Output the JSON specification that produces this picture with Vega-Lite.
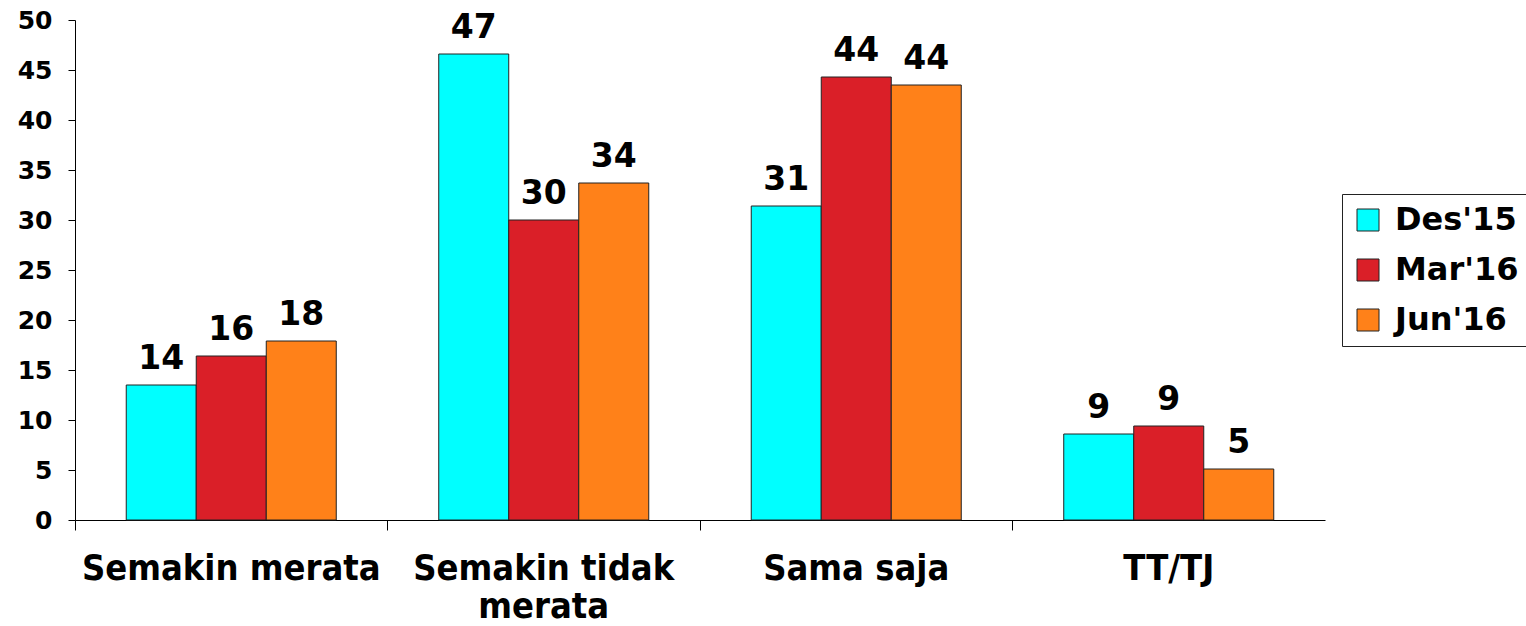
{
  "$schema": "https://vega.github.io/schema/vega-lite/v6.json",
  "width": 1250,
  "height": 500,
  "autosize": {"type": "none"},
  "padding": {"left": 75, "top": 20, "right": 201, "bottom": 106},
  "background": "white",
  "config": {
    "view": {"stroke": null},
    "font": "DejaVu Sans"
  },
  "data": {
    "values": [
      {"kategori": "Semakin merata", "periode": "Des'15", "nilai": 13.5},
      {"kategori": "Semakin merata", "periode": "Mar'16", "nilai": 16.4},
      {"kategori": "Semakin merata", "periode": "Jun'16", "nilai": 17.9},
      {"kategori": "Semakin tidak merata", "periode": "Des'15", "nilai": 46.6},
      {"kategori": "Semakin tidak merata", "periode": "Mar'16", "nilai": 30.0},
      {"kategori": "Semakin tidak merata", "periode": "Jun'16", "nilai": 33.7},
      {"kategori": "Sama saja", "periode": "Des'15", "nilai": 31.4},
      {"kategori": "Sama saja", "periode": "Mar'16", "nilai": 44.3},
      {"kategori": "Sama saja", "periode": "Jun'16", "nilai": 43.5},
      {"kategori": "TT/TJ", "periode": "Des'15", "nilai": 8.6},
      {"kategori": "TT/TJ", "periode": "Mar'16", "nilai": 9.4},
      {"kategori": "TT/TJ", "periode": "Jun'16", "nilai": 5.1}
    ]
  },
  "encoding": {
    "x": {
      "field": "kategori",
      "type": "nominal",
      "sort": ["Semakin merata", "Semakin tidak merata", "Sama saja", "TT/TJ"],
      "scale": {"paddingInner": 0, "paddingOuter": 0},
      "axis": {
        "title": null,
        "labelAngle": 0,
        "bandPosition": 0,
        "labelFont": "DejaVu Sans Condensed",
        "labelFontWeight": "bold",
        "labelFontSize": 36,
        "labelColor": "black",
        "labelPadding": 21,
        "labelLineHeight": 38,
        "labelExpr": "datum.label == 'Semakin tidak merata' ? ['Semakin tidak', 'merata'] : datum.label",
        "tickSize": 10,
        "tickColor": "black",
        "domainColor": "black",
        "labelLimit": 400
      }
    },
    "xOffset": {
      "field": "periode",
      "type": "nominal",
      "sort": ["Des'15", "Mar'16", "Jun'16"],
      "scale": {"paddingInner": 0, "paddingOuter": 0.732}
    },
    "y": {
      "field": "nilai",
      "type": "quantitative",
      "scale": {"domain": [0, 50], "nice": false},
      "axis": {
        "title": null,
        "values": [0, 5, 10, 15, 20, 25, 30, 35, 40, 45, 50],
        "grid": false,
        "tickSize": 7,
        "tickColor": "black",
        "domainColor": "black",
        "labelFontWeight": "bold",
        "labelFontSize": 25,
        "labelColor": "black",
        "labelPadding": 16
      }
    }
  },
  "layer": [
    {
      "mark": {"type": "bar", "stroke": "#222222", "strokeWidth": 1},
      "encoding": {
        "color": {
          "field": "periode",
          "type": "nominal",
          "sort": ["Des'15", "Mar'16", "Jun'16"],
          "scale": {"domain": ["Des'15", "Mar'16", "Jun'16"], "range": ["#00FFFF", "#DA1F28", "#FF8119"]},
          "legend": {
            "title": null,
            "orient": "none",
            "legendX": 1267,
            "legendY": 174,
            "symbolType": "square",
            "symbolSize": 484,
            "symbolStrokeColor": "#222222",
            "symbolStrokeWidth": 1,
            "labelFontSize": 32,
            "labelFontWeight": "bold",
            "labelColor": "black",
            "labelOffset": 11,
            "rowPadding": 18,
            "padding": 10,
            "strokeColor": "#222222",
            "fillColor": "white"
          }
        }
      }
    },
    {
      "mark": {"type": "text", "baseline": "alphabetic", "dy": -16, "fontSize": 33, "fontWeight": "bold", "color": "black"},
      "encoding": {
        "text": {"field": "nilai", "type": "quantitative", "format": ".0f"}
      }
    }
  ]
}
